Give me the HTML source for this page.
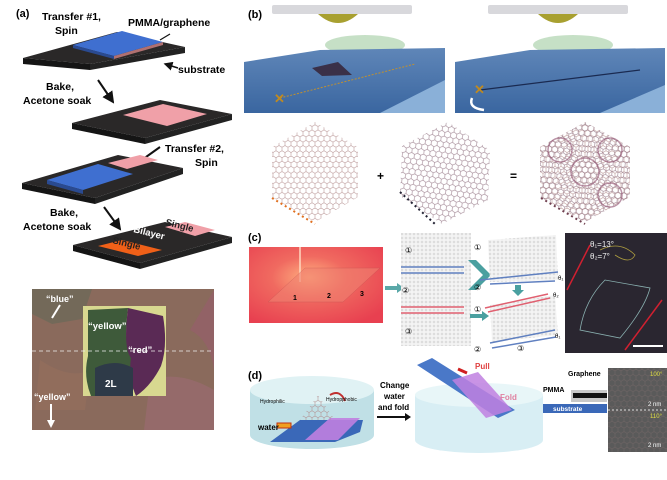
<!DOCTYPE html>
<html><head><meta charset="utf-8"><style>
body{margin:0;background:#fff}
svg{display:block;font-family:"Liberation Sans",sans-serif}
</style></head><body>
<svg width="667" height="480" viewBox="0 0 667 480" xmlns="http://www.w3.org/2000/svg">
<defs>
<pattern id="hx" width="6" height="10.4" patternUnits="userSpaceOnUse">
<path d="M0 1.7 L3 0 L6 1.7 M0 1.7 L0 5.2 L3 6.9 L6 5.2 L6 1.7 M3 6.9 L3 10.4" fill="none" stroke="#b08888" stroke-width="0.5"/>
</pattern>
<pattern id="hx2" width="6" height="10.4" patternUnits="userSpaceOnUse" patternTransform="rotate(8)">
<path d="M0 1.7 L3 0 L6 1.7 M0 1.7 L0 5.2 L3 6.9 L6 5.2 L6 1.7 M3 6.9 L3 10.4" fill="none" stroke="#907080" stroke-width="0.5"/>
</pattern>
<pattern id="gl" width="4" height="4" patternUnits="userSpaceOnUse">
<rect width="4" height="4" fill="#f4f4f4"/><circle cx="2" cy="2" r="1" fill="none" stroke="#c8c8c8" stroke-width="0.5"/>
</pattern>
<radialGradient id="rg" cx="0.45" cy="0.4" r="0.7"><stop offset="0" stop-color="#ffb080"/><stop offset="0.4" stop-color="#f06a60"/><stop offset="1" stop-color="#e84050"/></radialGradient>
<linearGradient id="bl" x1="0" y1="0" x2="0" y2="1"><stop offset="0" stop-color="#5f86b8"/><stop offset="1" stop-color="#3a66a0"/></linearGradient>
<marker id="ah" markerWidth="6" markerHeight="6" refX="5" refY="3" orient="auto"><path d="M0 0L6 3L0 6z" fill="#111"/></marker>
</defs>

<!-- (a) -->
<text x="16" y="17" font-size="11" font-weight="bold">(a)</text>
<text x="42" y="20" font-size="10.5" font-weight="bold">Transfer #1,</text>
<text x="55" y="34" font-size="10.5" font-weight="bold">Spin</text>
<text x="128" y="26" font-size="10.5" font-weight="bold">PMMA/graphene</text>
<polygon points="23,58 117,32 185,47 90,64" fill="#2a2828"/>
<polygon points="23,58 90,64 90,70 23,64" fill="#151515"/>
<polygon points="90,64 185,47 185,53 90,70" fill="#222"/>
<polygon points="73,45 122,31 163,42 114,56" fill="#3f6fd0"/>
<polygon points="73,45 114,56 114,59 73,48" fill="#2a4a90"/>
<polygon points="114,56 163,42 163,45 114,59" fill="#b07070"/>
<line x1="160" y1="40" x2="170" y2="34" stroke="#111" stroke-width="1.2"/>
<line x1="178" y1="68" x2="165" y2="64" stroke="#111" stroke-width="1.5" marker-end="url(#ah)"/>
<text x="178" y="73" font-size="10.5" font-weight="bold">substrate</text>
<text x="46" y="90" font-size="10.5" font-weight="bold">Bake,</text>
<text x="23" y="104" font-size="10.5" font-weight="bold">Acetone soak</text>
<line x1="98" y1="80" x2="113" y2="102" stroke="#111" stroke-width="2" marker-end="url(#ah)"/>
<polygon points="72,123 160,100 232,114 145,138" fill="#2a2828"/>
<polygon points="72,123 145,138 145,144 72,129" fill="#151515"/>
<polygon points="145,138 232,114 232,120 145,144" fill="#222"/>
<polygon points="123,115 163,104 207,114 167,126" fill="#f0a0a8"/>
<text x="165" y="152" font-size="10.5" font-weight="bold">Transfer #2,</text>
<text x="195" y="166" font-size="10.5" font-weight="bold">Spin</text>
<line x1="160" y1="147" x2="132" y2="167" stroke="#111" stroke-width="2" marker-end="url(#ah)"/>
<polygon points="22,183 118,155 183,168 95,198" fill="#2a2828"/>
<polygon points="22,183 95,198 95,204 22,189" fill="#151515"/>
<polygon points="95,198 183,168 183,174 95,204" fill="#222"/>
<polygon points="108,163 140,155 158,160 127,169" fill="#f0a0a8"/>
<polygon points="47,180 98,164 133,174 83,190" fill="#3f6fd0"/>
<polygon points="47,180 83,190 83,194 47,184" fill="#2a4a90"/>
<text x="50" y="216" font-size="10.5" font-weight="bold">Bake,</text>
<text x="23" y="230" font-size="10.5" font-weight="bold">Acetone soak</text>
<line x1="104" y1="207" x2="120" y2="229" stroke="#111" stroke-width="2" marker-end="url(#ah)"/>
<polygon points="73,245 165,222 232,237 140,263" fill="#2a2828"/>
<polygon points="73,245 140,263 140,269 73,251" fill="#151515"/>
<polygon points="140,263 232,237 232,243 140,269" fill="#222"/>
<polygon points="98,246 122,240 162,250 138,256" fill="#f06018"/>
<polygon points="165,227 185,222 215,230 195,236" fill="#f0a0a8"/>
<text x="112" y="243" font-size="9.5" font-weight="bold" fill="#222" transform="rotate(14 112 243)">Single</text>
<text x="133" y="232" font-size="9.5" font-weight="bold" fill="#fff" transform="rotate(14 133 232)">Bilayer</text>
<text x="165" y="225" font-size="9.5" font-weight="bold" fill="#222" transform="rotate(14 165 225)">Single</text>
<!-- optical image -->
<rect x="32" y="289" width="182" height="141" fill="#8a6a5c"/>
<path d="M32 289 h60 l-10 30 -30 5 -20 -10z" fill="#6a6a58" opacity=".7"/>
<path d="M150 380 q30 -10 64 10 v40 h-70z" fill="#a06a78" opacity=".5"/>
<path d="M190 330 q20 10 24 40 v-80z" fill="#9a5a70" opacity=".5"/>
<path d="M40 360 q30 20 50 10 l-5 40 -50 0z" fill="#96705c" opacity=".6"/>
<rect x="83" y="306" width="83" height="90" fill="#d8d890"/>
<path d="M88 310 l40 -2 q-5 40 5 50 q5 20 -2 38 h-40 q-8 -20 -3 -40z" fill="#3e5a3a"/>
<path d="M128 308 l35 8 q5 30 -2 50 q-10 20 -25 30 q-8 -18 -5 -38 q-8 -10 -3 -50z" fill="#5a2a55"/>
<path d="M95 368 q20 -10 38 0 v28 h-38z" fill="#2e3a48"/>
<line x1="32" y1="351" x2="214" y2="351" stroke="#eee" stroke-width="0.8" stroke-dasharray="4,3"/>
<text x="46" y="302" font-size="9" font-weight="bold" fill="#fff">“blue”</text>
<line x1="60" y1="305" x2="52" y2="318" stroke="#fff" stroke-width="2"/>
<text x="88" y="329" font-size="9.5" font-weight="bold" fill="#fff">“yellow”</text>
<text x="128" y="353" font-size="9.5" font-weight="bold" fill="#fff">“red”</text>
<text x="105" y="387" font-size="10" font-weight="bold" fill="#fff">2L</text>
<text x="34" y="400" font-size="9" font-weight="bold" fill="#fff">“yellow”</text>
<line x1="51" y1="404" x2="51" y2="424" stroke="#fff" stroke-width="2"/>
<path d="M47 420 L51 428 L55 420z" fill="#fff"/>

<!-- (b) -->
<text x="248" y="18" font-size="11" font-weight="bold">(b)</text>
<rect x="272" y="5" width="140" height="9" fill="#d8d8dc" rx="2"/>
<path d="M318 14 q20 18 40 0z" fill="#a8a030"/>
<ellipse cx="365" cy="45" rx="40" ry="10" fill="#b8d8b8" opacity=".8"/>
<polygon points="244,62 320,50 445,48 445,113 244,113" fill="url(#bl)"/>
<polygon points="380,113 445,80 445,113" fill="#8ab0d8"/>
<polygon points="312,68 338,62 352,75 322,76" fill="#3a3048"/>
<line x1="280" y1="98" x2="415" y2="64" stroke="#c09030" stroke-width="1" stroke-dasharray="2,1.5"/>
<text x="274" y="103" font-size="13" fill="#c08a20" font-weight="bold">✕</text>
<rect x="488" y="5" width="140" height="9" fill="#d8d8dc" rx="2"/>
<path d="M538 14 q20 18 40 0z" fill="#a8a030"/>
<ellipse cx="573" cy="45" rx="40" ry="10" fill="#b8d8b8" opacity=".8"/>
<polygon points="455,62 530,50 665,48 665,113 455,113" fill="url(#bl)"/>
<polygon points="600,113 665,85 665,113" fill="#8ab0d8"/>
<line x1="480" y1="90" x2="640" y2="70" stroke="#1a2a50" stroke-width="1.2"/>
<text x="474" y="94" font-size="13" fill="#c08a20" font-weight="bold">✕</text>
<path d="M472 98 q-4 10 12 12" fill="none" stroke="#fff" stroke-width="2.5"/>
<polygon points="315,122 358,147 358,197 315,222 272,197 272,147" fill="url(#hx)"/>
<line x1="272" y1="198" x2="315" y2="224" stroke="#e07020" stroke-width="2" stroke-dasharray="2,3"/>
<text x="377" y="180" font-size="12" font-weight="bold">+</text>
<polygon points="448,122 490,150 488,200 442,224 400,196 402,146" fill="url(#hx2)"/>
<line x1="400" y1="192" x2="435" y2="224" stroke="#223" stroke-width="2" stroke-dasharray="2,3"/>
<text x="510" y="180" font-size="12" font-weight="bold">=</text>
<polygon points="585,122 630,147 630,197 585,222 540,197 540,147" fill="url(#hx)"/>
<polygon points="585,122 630,147 630,197 585,222 540,197 540,147" fill="url(#hx2)"/>
<circle cx="585" cy="172" r="14" fill="none" stroke="#905070" stroke-width="1.5" opacity=".6"/>
<circle cx="610" cy="150" r="12" fill="none" stroke="#905070" stroke-width="1.5" opacity=".6"/>
<circle cx="560" cy="150" r="12" fill="none" stroke="#905070" stroke-width="1.5" opacity=".6"/>
<circle cx="610" cy="195" r="12" fill="none" stroke="#905070" stroke-width="1.5" opacity=".6"/>
<line x1="541" y1="198" x2="585" y2="224" stroke="#704050" stroke-width="2" stroke-dasharray="2,3"/>

<!-- (c) -->
<text x="248" y="241" font-size="11" font-weight="bold">(c)</text>
<rect x="249" y="247" width="134" height="76" fill="url(#rg)"/>
<line x1="300" y1="247" x2="300" y2="282" stroke="#ffd8c0" stroke-width="1.5"/>
<polygon points="268,302 305,268 380,268 343,302" fill="#f08070" opacity=".6" stroke="#c05050" stroke-width=".5"/>
<text x="293" y="300" font-size="7" font-weight="bold">1</text>
<text x="327" y="298" font-size="7" font-weight="bold">2</text>
<text x="360" y="296" font-size="7" font-weight="bold">3</text>
<path d="M385 286 h12 v-3 l7 5 -7 5 v-3 h-12z" fill="#5aa8a8"/>
<rect x="401" y="233" width="70" height="113" fill="url(#gl)"/>
<line x1="401" y1="267" x2="464" y2="267" stroke="#6080c0" stroke-width="1.5"/>
<line x1="401" y1="273" x2="464" y2="273" stroke="#6080c0" stroke-width="1.5"/>
<line x1="401" y1="307" x2="464" y2="307" stroke="#e06070" stroke-width="1.5"/>
<line x1="401" y1="313" x2="464" y2="313" stroke="#e06070" stroke-width="1.5"/>
<text x="405" y="253" font-size="8">①</text><text x="402" y="293" font-size="8">②</text><text x="405" y="334" font-size="8">③</text>
<path d="M468 260 l15 15 -15 15 h8 l15 -15 -15 -15z" fill="#4aa0a0"/>
<polygon points="488,240 556,235 558,280 490,282" fill="url(#gl)"/>
<line x1="480" y1="280" x2="558" y2="272" stroke="#6080c0" stroke-width="1.5"/>
<line x1="490" y1="284" x2="555" y2="281" stroke="#6080c0" stroke-width="1.5"/>
<text x="474" y="250" font-size="8">①</text><text x="474" y="290" font-size="8">②</text>
<text x="558" y="280" font-size="6">θ₁</text>
<path d="M515 285 h6 v5 h3 l-6 6 -6 -6 h3z" fill="#4aa0a0"/>
<path d="M470 314 h12 v-3 l7 5 -7 5 v-3 h-12z" fill="#4aa0a0"/>
<polygon points="490,305 555,295 558,335 492,342" fill="url(#gl)"/>
<line x1="485" y1="308" x2="548" y2="294" stroke="#e06070" stroke-width="1.5"/>
<line x1="488" y1="312" x2="550" y2="298" stroke="#e06070" stroke-width="1.5"/>
<line x1="490" y1="343" x2="555" y2="330" stroke="#6080c0" stroke-width="1.5"/>
<line x1="492" y1="348" x2="556" y2="337" stroke="#6080c0" stroke-width="1.5"/>
<text x="474" y="312" font-size="8">①</text><text x="474" y="352" font-size="8">②</text><text x="517" y="351" font-size="8">③</text>
<text x="553" y="297" font-size="6">θ₂</text><text x="555" y="338" font-size="6">θ₁</text>
<rect x="565" y="233" width="102" height="120" fill="#2a2630"/>
<line x1="567" y1="290" x2="590" y2="245" stroke="#d02030" stroke-width="1.5"/>
<line x1="625" y1="350" x2="662" y2="300" stroke="#d02030" stroke-width="1.5"/>
<path d="M580 330 q5 -30 25 -50 l45 8 q-5 20 -30 50 z" fill="none" stroke="#8ab0b0" stroke-width=".8"/>
<path d="M600 250 q20 -10 35 5 q-5 10 -20 0" fill="none" stroke="#b0a040" stroke-width=".8"/>
<text x="590" y="247" font-size="8" fill="#eee">θ₁=13°</text>
<text x="590" y="259" font-size="8" fill="#eee">θ₂=7°</text>
<rect x="633" y="345" width="30" height="2" fill="#fff"/>

<!-- (d) -->
<text x="248" y="379" font-size="11" font-weight="bold">(d)</text>
<path d="M250 390 v45 a62 14 0 0 0 124 0 v-45z" fill="#c0e0e6"/>
<ellipse cx="312" cy="390" rx="62" ry="14" fill="#e0f2f4"/>
<polygon points="270,442 300,420 363,420 360,432 335,442" fill="#3a68b8"/>
<polygon points="305,440 330,418 360,418 338,440" fill="#c080e0" opacity=".9"/>
<polygon points="300,420 318,395 335,420" fill="url(#hx)"/>
<path d="M330 395 q10 -6 15 6" fill="none" stroke="#c03030" stroke-width="2"/>
<rect x="277" y="423" width="14" height="5" fill="#f0a020" stroke="#c03010" stroke-width="1"/>
<text x="258" y="430" font-size="8" font-weight="bold">water</text>
<text x="260" y="403" font-size="5">Hydrophilic</text>
<text x="326" y="401" font-size="5">Hydropphobic</text>
<text x="380" y="388" font-size="8" font-weight="bold">Change</text>
<text x="384" y="399" font-size="8" font-weight="bold">water</text>
<text x="378" y="410" font-size="8" font-weight="bold">and fold</text>
<path d="M377 416 h28 v-3 l6 4 -6 4 v-3 h-28z" fill="#111"/>
<path d="M415 395 v45 a64 13 0 0 0 128 0 v-45z" fill="#d8eef4"/>
<ellipse cx="479" cy="395" rx="64" ry="12" fill="#e8f6f8"/>
<polygon points="417,365 432,358 515,410 498,418" fill="#4a78c8"/>
<polygon points="452,380 478,372 512,410 486,418" fill="#c080e0" opacity=".85"/>
<line x1="467" y1="373" x2="458" y2="369" stroke="#d02020" stroke-width="3"/>
<text x="475" y="369" font-size="8" fill="#e04040" font-weight="bold">Pull</text>
<text x="500" y="400" font-size="8" fill="#e080a0" font-weight="bold">Fold</text>
<text x="568" y="376" font-size="7" font-weight="bold">Graphene</text>
<text x="543" y="392" font-size="7" font-weight="bold">PMMA</text>
<rect x="571" y="390" width="36" height="12" fill="#c8c8c8"/>
<rect x="573" y="393" width="34" height="5" fill="#111"/>
<rect x="543" y="404" width="64" height="9" fill="#3a68b8"/>
<text x="553" y="411" font-size="6.5" fill="#fff" font-weight="bold">substrate</text>
<rect x="608" y="368" width="59" height="84" fill="#5a5a5a"/>
<rect x="608" y="368" width="59" height="84" fill="url(#hx)" opacity=".3"/>
<line x1="608" y1="410" x2="667" y2="410" stroke="#ddd" stroke-dasharray="2,2"/>
<text x="650" y="376" font-size="6" fill="#e0e040">100°</text>
<text x="650" y="418" font-size="6" fill="#e0e040">110°</text>
<text x="648" y="406" font-size="6" fill="#fff">2 nm</text>
<text x="648" y="447" font-size="6" fill="#fff">2 nm</text>
</svg>
</body></html>
